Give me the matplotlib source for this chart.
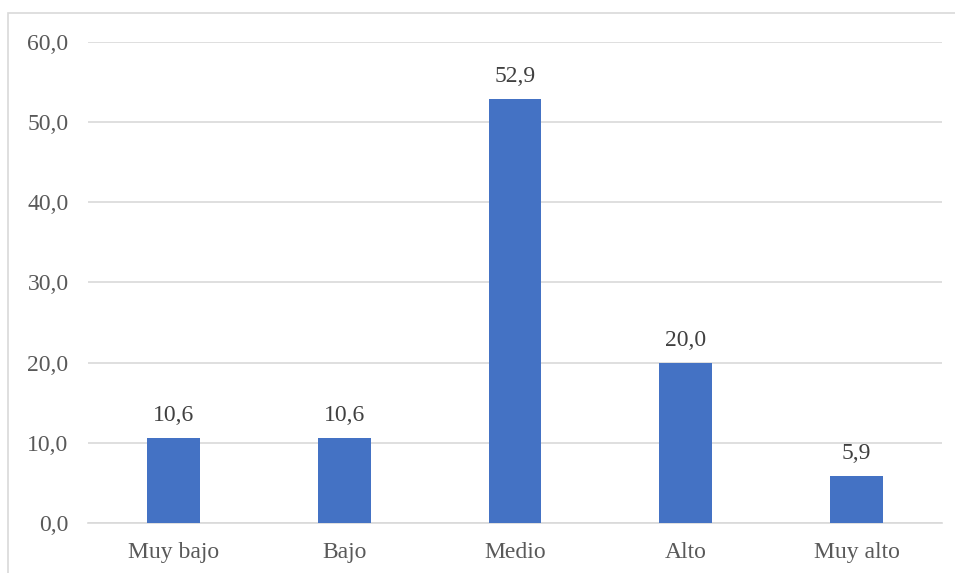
import matplotlib.pyplot as plt
from matplotlib.patches import Rectangle

# niveles y porcentajes
niveles = ['Muy bajo', 'Bajo', 'Medio', 'Alto', 'Muy alto']
porcentajes = [10.6, 10.6, 52.9, 20.0, 5.9]
yticks = [0, 10, 20, 30, 40, 50, 60]

plt.rcParams['font.family'] = ['Liberation Serif', 'DejaVu Serif']

fig = plt.figure(figsize=(9.55, 5.73), dpi=100)
ax = fig.add_axes([0.0921, 0.0873, 0.8943, 0.8394])

# marco del grafico
fig.patches.append(Rectangle((8/955, -0.1), 1.2, 1 - 13/573 + 0.1,
                             transform=fig.transFigure, fill=False,
                             edgecolor='#D9D9D9', lw=1.2))

x = range(len(niveles))
barras = ax.bar(x, porcentajes, width=0.31, color='#4472C4', zorder=3)

for b, v in zip(barras, porcentajes):
    ax.text(b.get_x() + b.get_width()/2, v + 1.5, f'{v:.1f}'.replace('.', ','),
            ha='center', va='bottom', fontsize=17, color='#404040')

ax.set_xlim(-0.5, len(niveles) - 0.5)
ax.set_ylim(0, 60)
ax.set_yticks(yticks)
ax.set_yticklabels([f'{t:.1f}'.replace('.', ',') for t in yticks])
ax.set_xticks(list(x))
ax.set_xticklabels(niveles)
ax.tick_params(axis='both', length=0, labelsize=17, labelcolor='#595959')
ax.tick_params(axis='y', pad=14)
ax.tick_params(axis='x', pad=14)

ax.grid(axis='y', color='#D9D9D9', lw=1.2, zorder=0)
for s in ['top', 'right', 'left']:
    ax.spines[s].set_visible(False)
ax.spines['bottom'].set_color('#D9D9D9')
ax.spines['bottom'].set_linewidth(1.2)

fig.savefig('out.png', dpi=100)
